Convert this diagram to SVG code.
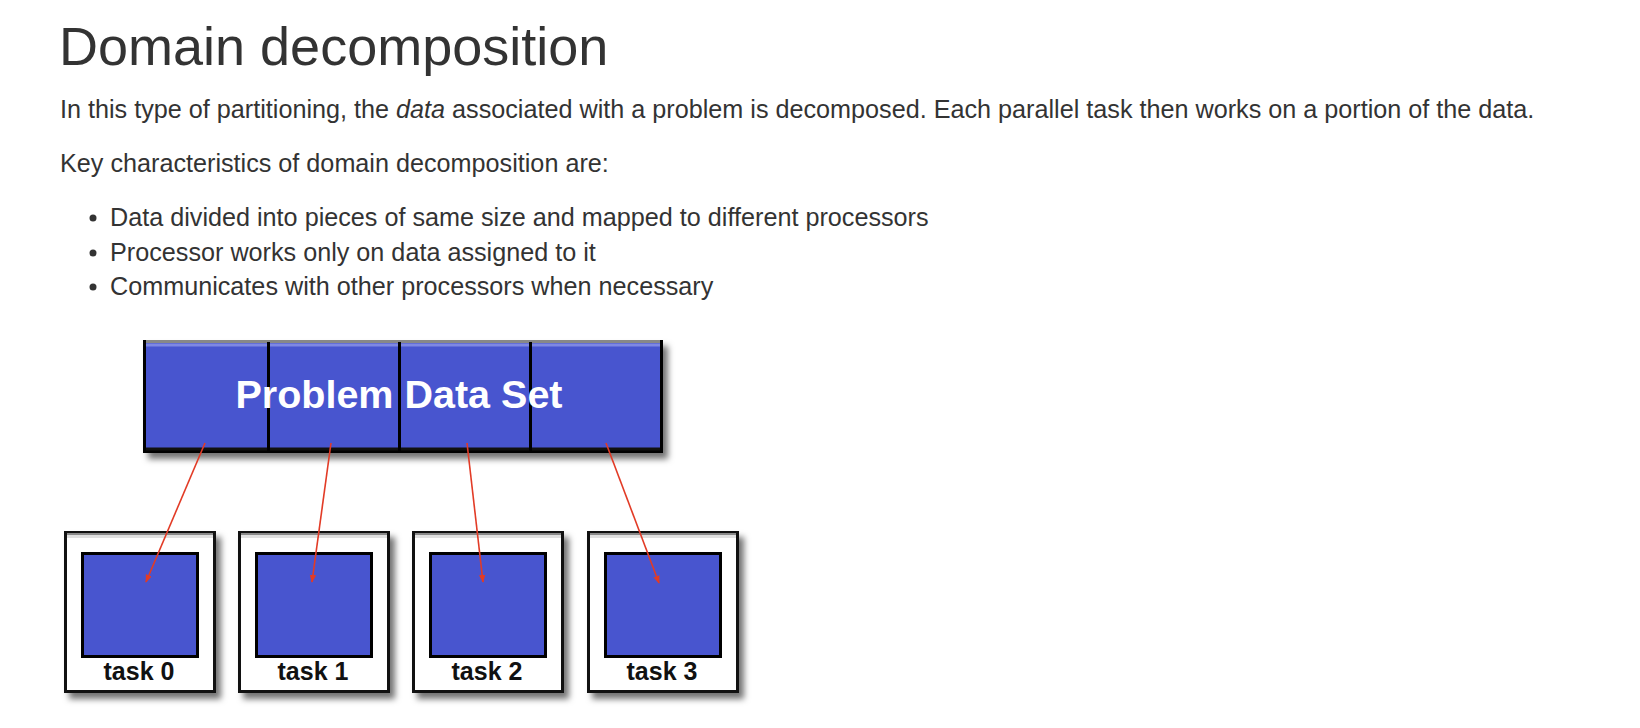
<svg xmlns="http://www.w3.org/2000/svg" width="1640" height="728" viewBox="0 0 1640 728">
<style>
.page{font-family:"Liberation Sans",Arial,sans-serif;fill:#333333}
.title{font-size:54px}
.body{font-size:25.2px}
.lbl{font-family:"Liberation Sans",Arial,sans-serif;font-weight:bold;font-size:25px;fill:#111;text-anchor:middle}
.big{font-family:"Liberation Sans",Arial,sans-serif;font-weight:bold;font-size:39.5px;fill:#ffffff;text-anchor:middle}
.blue{fill:#4855CF}
.conn{stroke:#E23B26;stroke-width:1.6;fill:none}
</style>
<defs>
<filter id="sh" x="-10%" y="-10%" width="125%" height="130%">
<feDropShadow dx="5" dy="6" stdDeviation="3" flood-color="#000" flood-opacity="0.55"/>
</filter>
<marker id="ah" viewBox="0 0 10 10" refX="9" refY="5" markerWidth="8" markerHeight="8" orient="auto" markerUnits="userSpaceOnUse">
<path d="M0,1 L10,5 L0,9 z" fill="#E23B26"/>
</marker>
<g id="taskbox">
<rect x="0" y="0" width="152" height="162" fill="#ffffff" filter="url(#sh)"/>
<rect x="1.5" y="1.5" width="149" height="159" fill="#ffffff" stroke="#111" stroke-width="3"/>
<line x1="3" y1="3" x2="149" y2="3" stroke="#8a8a8a" stroke-width="2"/>
<line x1="3" y1="5.5" x2="149" y2="5.5" stroke="#e0e0e0" stroke-width="3"/>
<rect x="18.5" y="22.5" width="115" height="103" class="blue" stroke="#000" stroke-width="3"/>
</g>
</defs>

<g id="text" class="page">
<text class="title" x="59" y="65">Domain decomposition</text>
<text class="body" x="60" y="118">In this type of partitioning, the <tspan font-style="italic">data</tspan> associated with a problem is decomposed. Each parallel task then works on a portion of the data.</text>
<text class="body" x="60" y="172">Key characteristics of domain decomposition are:</text>
<circle cx="93" cy="218" r="3.5" fill="#333"/>
<circle cx="93" cy="253" r="3.5" fill="#333"/>
<circle cx="93" cy="287" r="3.5" fill="#333"/>
<text class="body" x="110" y="226">Data divided into pieces of same size and mapped to different processors</text>
<text class="body" x="110" y="261">Processor works only on data assigned to it</text>
<text class="body" x="110" y="295">Communicates with other processors when necessary</text>
</g>

<g id="problem-data-set">
<rect x="143" y="340" width="520" height="113" class="blue" filter="url(#sh)"/>
<rect x="144.5" y="341.5" width="517" height="110" class="blue" stroke="#000" stroke-width="3"/>
<line x1="146" y1="341.5" x2="660" y2="341.5" stroke="#888" stroke-width="3"/>
<line x1="146" y1="345" x2="660" y2="345" stroke="#7f88e2" stroke-width="3"/>
<line x1="146" y1="449" x2="660" y2="449" stroke="#111" stroke-width="3"/>
<line x1="268.5" y1="342" x2="268.5" y2="452" stroke="#000" stroke-width="3"/>
<line x1="399.5" y1="342" x2="399.5" y2="452" stroke="#000" stroke-width="3"/>
<line x1="530.5" y1="342" x2="530.5" y2="452" stroke="#000" stroke-width="3"/>
<text class="big" x="399" y="408">Problem Data Set</text>
</g>

<g id="task0">
<use href="#taskbox" x="64" y="531"/>
<text class="lbl" x="139" y="680">task 0</text>
</g>
<g id="task1">
<use href="#taskbox" x="238" y="531"/>
<text class="lbl" x="313" y="680">task 1</text>
</g>
<g id="task2">
<use href="#taskbox" x="412" y="531"/>
<text class="lbl" x="487" y="680">task 2</text>
</g>
<g id="task3">
<use href="#taskbox" x="587" y="531"/>
<text class="lbl" x="662" y="680">task 3</text>
</g>

<g id="connectors">
<line class="conn" x1="205" y1="443" x2="146" y2="582" marker-end="url(#ah)"/>
<line class="conn" x1="331" y1="443" x2="312" y2="582" marker-end="url(#ah)"/>
<line class="conn" x1="467" y1="443" x2="483" y2="582" marker-end="url(#ah)"/>
<line class="conn" x1="606" y1="443" x2="659" y2="583" marker-end="url(#ah)"/>
</g>
</svg>
